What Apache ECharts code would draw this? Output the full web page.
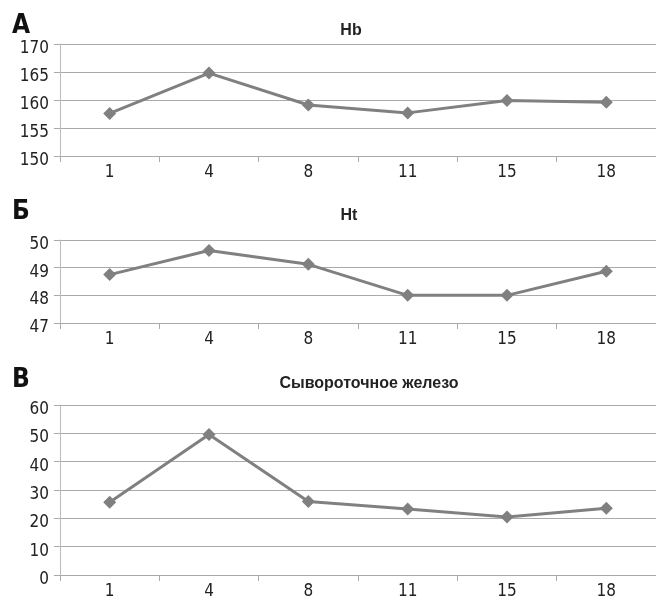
<!DOCTYPE html>
<html><head><meta charset="utf-8">
<script src="https://cdn.jsdelivr.net/npm/echarts@6/dist/echarts.min.js"></script>
<style>html,body{margin:0;padding:0;background:#fff}#c{width:656px;height:600px}</style>
</head><body><div id="c"></div>
<script>
var categories = ['1', '4', '8', '11', '15', '18'];
var hbValues = [157.6, 164.8, 159.1, 157.7, 159.9, 159.6];
var htValues = [48.75, 49.62, 49.12, 48.0, 48.0, 48.87];
var ironValues = [25.7, 49.6, 25.9, 23.3, 20.5, 23.6];
var panelTitles = ['Hb', 'Ht', 'Сывороточное железо'];
var panelLetters = ['А', 'Б', 'В'];

var FONT = '"Liberation Sans Narrow", "DejaVu Sans Condensed", "Roboto", sans-serif';
var TFONT = '"Liberation Sans", "Roboto", sans-serif';
var grids = [
  {left: 60, right: -4, top: 44, height: 112},
  {left: 60, right: -4, top: 240, height: 83},
  {left: 60, right: -4, top: 405, height: 173}
];
var yCfg = [
  {min: 150, max: 170, interval: 5},
  {min: 47, max: 50, interval: 1},
  {min: 0, max: 60, interval: 10}
];
var dataSets = [hbValues, htValues, ironValues];
var titleTops = [18, 203, 371];
var titleCenters = [346, 344, 364];
var letterTops = [8, 194, 362];

var option = {
  animation: false,
  title: [],
  grid: grids,
  xAxis: [], yAxis: [], series: []
};
for (var i = 0; i < 3; i++) {
  option.title.push({text: panelTitles[i], left: titleCenters[i], top: titleTops[i], textAlign: 'center',
    textStyle: {fontFamily: TFONT, fontSize: 16, fontWeight: 'bold', color: '#222'}});
  option.title.push({text: panelLetters[i], left: 7, top: letterTops[i],
    textStyle: {fontFamily: FONT, fontSize: 26, fontWeight: 'bold', color: '#111'}});
  option.xAxis.push({type: 'category', gridIndex: i, data: categories, boundaryGap: true,
    axisLine: {lineStyle: {color: '#aaa', width: 1}},
    axisTick: {show: true, length: 6, lineStyle: {color: '#aaa'}},
    axisLabel: {fontFamily: FONT, fontSize: 17, color: '#222', margin: 8}});
  option.yAxis.push({type: 'value', gridIndex: i, min: yCfg[i].min, max: yCfg[i].max, interval: yCfg[i].interval,
    axisLine: {show: true, lineStyle: {color: '#bbb', width: 1}},
    axisTick: {show: true, length: 6, lineStyle: {color: '#aaa'}},
    splitLine: {show: true, lineStyle: {color: '#aaa', width: 1}},
    axisLabel: {fontFamily: FONT, fontSize: 17, color: '#222', margin: 11, verticalAlign: 'top', lineHeight: 17, padding: [-4, 0, 0, 0]}});
  option.series.push({type: 'line', xAxisIndex: i, yAxisIndex: i, data: dataSets[i],
    symbol: 'diamond', symbolSize: 13, lineStyle: {color: '#808080', width: 3},
    itemStyle: {color: '#808080'}});
}
echarts.init(document.getElementById('c')).setOption(option);
</script></body></html>
